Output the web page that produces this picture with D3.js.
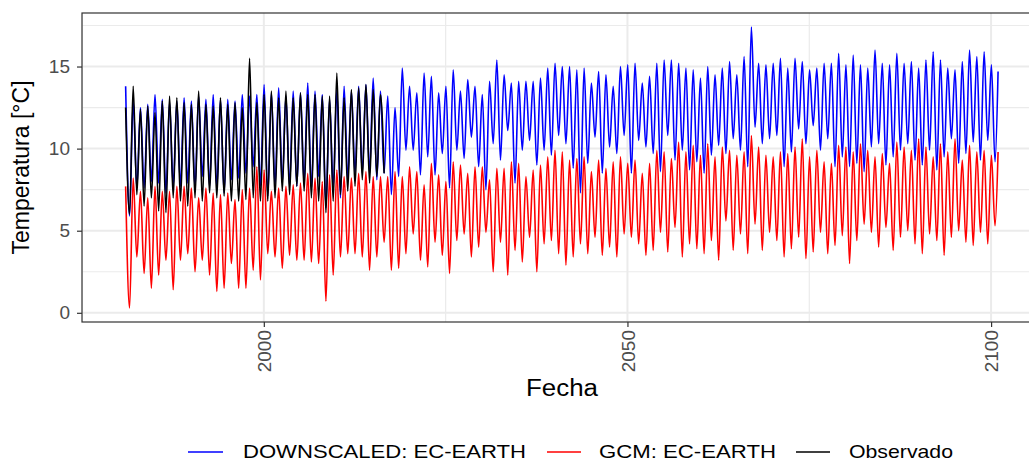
<!DOCTYPE html>
<html><head><meta charset="utf-8">
<script src="https://cdn.jsdelivr.net/npm/d3@7"></script>
<style>body{margin:0;background:#fff;} svg{display:block;font-family:"Liberation Sans",Arial,sans-serif;}</style>
</head><body>
<script>
// ---- Data: yearly summer peak (Jan) and winter trough (Jul) ----
const startYear = 1981;
const seriesNames = ["DOWNSCALED: EC-EARTH", "GCM: EC-EARTH", "Observado"];
const yTicks = [0, 5, 10, 15];
const yMinor = [2.5, 7.5, 12.5, 17.5];
const xTicks = [2000, 2050, 2100];
const xMinor = [1975, 2025, 2075];

const downPeak = [
13.8,12.9,12.5,12.7,13.3,13.0,12.8,12.9,13.1,12.9,
13.2,13.0,13.3,13.0,13.0,12.9,13.3,13.2,13.3,13.9,
13.4,13.7,13.2,13.5,13.4,14.0,13.5,13.3,13.0,13.6,
13.8,13.5,13.8,13.9,14.3,13.5,13.2,12.5,14.9,13.8,
13.4,14.6,14.4,13.4,13.8,14.8,13.5,14.2,13.8,13.3,
14.1,15.4,14.5,14.0,14.1,14.1,14.1,14.3,14.9,15.2,
15.0,15.0,14.8,14.9,14.0,14.7,14.5,13.8,15.0,15.1,
15.2,14.0,14.4,15.2,15.4,15.4,15.2,14.9,14.8,14.3,
15.0,14.5,14.9,15.3,14.5,15.6,17.4,15.2,15.1,15.2,
15.5,14.9,15.5,15.3,14.8,14.9,15.2,15.2,15.8,15.1,
15.7,15.1,14.9,16.0,15.2,15.1,15.8,15.2,15.3,14.9,
15.4,15.9,15.4,14.9,14.8,15.3,16.0,15.6,15.9,15.1];
const downTrough = [
5.9,7.6,7.6,8.0,7.9,7.3,7.7,7.7,7.9,7.6,
8.3,7.7,7.6,7.3,8.1,8.2,8.5,8.9,7.7,7.1,
7.7,7.9,7.7,7.7,7.9,7.5,8.3,6.4,7.6,7.0,
8.1,8.5,8.5,8.5,8.1,8.5,7.2,8.3,9.9,9.9,
8.4,9.5,8.4,9.7,7.6,9.9,9.4,10.7,8.9,7.5,
10.3,9.3,11.1,7.9,9.9,10.5,9.0,9.9,9.6,10.8,
10.3,8.8,7.3,9.1,10.7,8.5,10.1,9.7,10.8,8.5,
10.5,10.1,9.7,8.6,10.8,9.3,9.9,8.7,9.2,8.5,
9.6,10.2,9.7,10.6,9.9,8.9,11.3,10.3,10.6,10.8,
8.9,9.8,11.2,10.3,11.4,9.9,10.6,8.9,9.5,8.9,
9.1,8.6,10.1,10.3,9.0,9.5,9.9,10.3,9.3,9.0,
9.9,8.7,9.5,10.6,9.1,9.7,10.4,9.3,10.5,9.2];
const downLast = 14.7;

const gcmPeak = [
7.7,8.2,7.4,7.0,7.7,7.4,7.4,7.7,7.7,7.6,
7.0,7.6,7.3,7.2,7.3,6.9,7.5,7.6,8.9,8.7,
7.4,7.6,7.7,7.8,7.9,8.5,8.2,8.0,8.4,8.7,
8.3,8.2,8.5,8.6,8.3,8.3,8.3,8.6,8.3,8.9,
8.6,7.8,9.1,8.4,8.0,9.2,9.0,8.5,8.9,8.9,
8.1,8.8,8.8,9.2,9.1,8.3,8.7,9.0,9.5,9.9,
9.8,9.3,9.4,9.5,8.6,9.3,8.8,9.2,9.5,9.1,
9.3,8.5,9.1,9.9,9.8,9.4,10.4,9.8,10.2,9.6,
10.3,9.5,10.1,9.9,9.6,9.8,10.8,10.1,9.6,9.5,
9.8,9.7,10.1,10.6,9.5,9.9,9.2,9.1,10.2,10.1,
9.8,10.3,9.9,9.5,9.7,9.1,10.4,10.1,9.9,10.6,
10.1,9.5,10.3,9.8,10.6,9.3,10.2,9.8,9.9,9.6];
const gcmTrough = [
0.3,3.4,2.4,1.5,2.3,3.2,1.4,3.2,3.6,2.5,
3.2,2.3,1.3,1.5,3.0,1.5,1.5,2.6,2.0,3.6,
3.4,2.7,3.5,3.2,3.2,3.1,3.0,0.7,2.3,3.4,
3.6,3.6,3.4,2.6,3.4,4.3,2.6,2.7,3.6,4.8,
3.2,2.8,4.3,3.5,2.4,4.4,4.8,3.4,4.0,4.9,
2.5,4.3,2.3,3.8,3.1,4.6,2.5,4.2,4.4,3.6,
2.9,3.4,4.2,3.6,4.6,3.5,4.0,3.4,4.8,4.6,
4.2,3.5,3.8,4.9,3.7,5.2,3.4,4.2,3.9,3.6,
4.4,3.2,5.6,3.8,4.8,3.6,5.4,3.8,4.9,4.4,
3.4,3.9,4.6,3.3,3.7,4.9,3.6,4.1,4.7,3.0,
4.4,5.4,4.9,4.0,5.2,3.8,4.6,5.0,4.2,3.6,
4.8,4.4,3.5,4.6,5.0,4.3,4.1,4.9,4.2,5.3];
const gcmLast = 9.8;

const obsPeak = [
12.5,13.8,12.4,12.6,12.2,12.9,13.2,13.1,12.8,12.7,
13.5,12.7,12.6,13.1,12.7,12.8,12.5,15.5,12.8,13.3,
13.5,13.1,13.5,13.1,13.4,13.3,13.3,13.2,13.2,14.6,
13.1,13.6,13.7,13.9,13.6,13.3];
const obsTrough = [
6.0,7.2,6.5,7.0,6.2,6.1,7.0,6.8,6.5,7.0,
6.8,7.3,7.0,7.1,6.8,6.8,6.9,7.0,6.8,6.8,
7.0,7.4,7.2,7.7,7.4,7.0,6.8,6.1,6.8,7.2,
7.4,7.7,8.1,7.9,8.3,8.5];

const colors = ["#0000ff", "#ff0000", "#000000"];

function buildSeries(peaks, troughs, last) {
  const pts = [];
  peaks.forEach((p, i) => {
    const yr = startYear + i;
    pts.push({t: yr + (i === 0 ? 0 : 0.04), v: p});
    pts.push({t: yr + 0.54, v: troughs[i]});
  });
  if (last !== undefined) pts.push({t: startYear + peaks.length - 0.04, v: last});
  return pts;
}
const series = [
  buildSeries(downPeak, downTrough, downLast),
  buildSeries(gcmPeak, gcmTrough, gcmLast),
  buildSeries(obsPeak, obsTrough)
];

// ---- Layout ----
const W = 1029, H = 463;
const P = {left: 82, top: 13, right: 1042, bottom: 322};
const svg = d3.select("body").append("svg").attr("width", W).attr("height", H);

const x = d3.scaleLinear().domain([1975, 2107]).range([P.left, P.right]);
const y = d3.scaleLinear().domain([-0.56, 18.26]).range([P.bottom, P.top]);

svg.append("defs").append("clipPath").attr("id", "clip")
  .append("rect").attr("x", P.left).attr("y", P.top)
  .attr("width", P.right - P.left).attr("height", P.bottom - P.top);

const grid = svg.append("g").attr("clip-path", "url(#clip)");
grid.selectAll(".ymin").data(yMinor).join("line")
  .attr("x1", P.left).attr("x2", P.right).attr("y1", d => y(d)).attr("y2", d => y(d))
  .attr("stroke", "#ebebeb").attr("stroke-width", 1.2);
grid.selectAll(".xmin").data(xMinor).join("line")
  .attr("y1", P.top).attr("y2", P.bottom).attr("x1", d => x(d)).attr("x2", d => x(d))
  .attr("stroke", "#ebebeb").attr("stroke-width", 1.2);
grid.selectAll(".ymaj").data(yTicks).join("line")
  .attr("x1", P.left).attr("x2", P.right).attr("y1", d => y(d)).attr("y2", d => y(d))
  .attr("stroke", "#ebebeb").attr("stroke-width", 2);
grid.selectAll(".xmaj").data(xTicks).join("line")
  .attr("y1", P.top).attr("y2", P.bottom).attr("x1", d => x(d)).attr("x2", d => x(d))
  .attr("stroke", "#ebebeb").attr("stroke-width", 2);

const line = d3.line().x(d => x(d.t)).y(d => y(d.v)).curve(d3.curveMonotoneX);
const lines = svg.append("g").attr("clip-path", "url(#clip)");
series.forEach((s, i) => {
  lines.append("path").datum(s).attr("d", line)
    .attr("fill", "none").attr("stroke", colors[i]).attr("stroke-width", 1.6)
    .attr("stroke-linejoin", "round");
});

svg.append("rect").attr("x", P.left).attr("y", P.top)
  .attr("width", P.right - P.left).attr("height", P.bottom - P.top)
  .attr("fill", "none").attr("stroke", "#333333").attr("stroke-width", 1.2);

// Axes
const yAxis = svg.append("g").attr("transform", `translate(${P.left},0)`)
  .call(d3.axisLeft(y).tickValues(yTicks).tickSize(5).tickPadding(7).tickFormat(d3.format("d")));
yAxis.select(".domain").remove();
yAxis.selectAll(".tick line").attr("stroke", "#333333").attr("stroke-width", 1.2);
yAxis.selectAll(".tick text").attr("fill", "#4d4d4d").style("font-size", "19px")
  .attr("font-family", "Liberation Sans, Arial, sans-serif");

const xAxis = svg.append("g").attr("transform", `translate(0,${P.bottom})`)
  .call(d3.axisBottom(x).tickValues(xTicks).tickSize(5).tickFormat(d3.format("d")));
xAxis.select(".domain").remove();
xAxis.selectAll(".tick line").attr("stroke", "#333333").attr("stroke-width", 1.2);
xAxis.selectAll(".tick text").attr("fill", "#4d4d4d").style("font-size", "19px")
  .attr("font-family", "Liberation Sans, Arial, sans-serif")
  .attr("transform", "rotate(-90)").attr("text-anchor", "end")
  .attr("x", -8).attr("y", 0).attr("dy", "0.35em");

// Axis titles
svg.append("text").attr("x", (P.left + P.right) / 2).attr("y", 396)
  .attr("text-anchor", "middle").style("font-size", "23px").attr("fill", "#000")
  .attr("textLength", 72).attr("lengthAdjust", "spacingAndGlyphs").text("Fecha");
svg.append("text").attr("transform", `translate(29,${(P.top + P.bottom) / 2}) rotate(-90)`)
  .attr("text-anchor", "middle").style("font-size", "23px").attr("fill", "#000")
  .text("Temperatura [°C]");

// Legend
const legend = [
  {k1: 188, k2: 223, tx: 243, tw: 283},
  {k1: 547, k2: 581, tx: 599, tw: 177},
  {k1: 796, k2: 830, tx: 849, tw: 104}
];
legend.forEach((l, i) => {
  svg.append("line").attr("x1", l.k1).attr("x2", l.k2).attr("y1", 452).attr("y2", 452)
    .attr("stroke", colors[i]).attr("stroke-width", 1.5);
  svg.append("text").attr("x", l.tx).attr("y", 458).style("font-size", "19px").attr("fill", "#000")
    .attr("textLength", l.tw).attr("lengthAdjust", "spacingAndGlyphs").text(seriesNames[i]);
});
</script>
</body></html>
